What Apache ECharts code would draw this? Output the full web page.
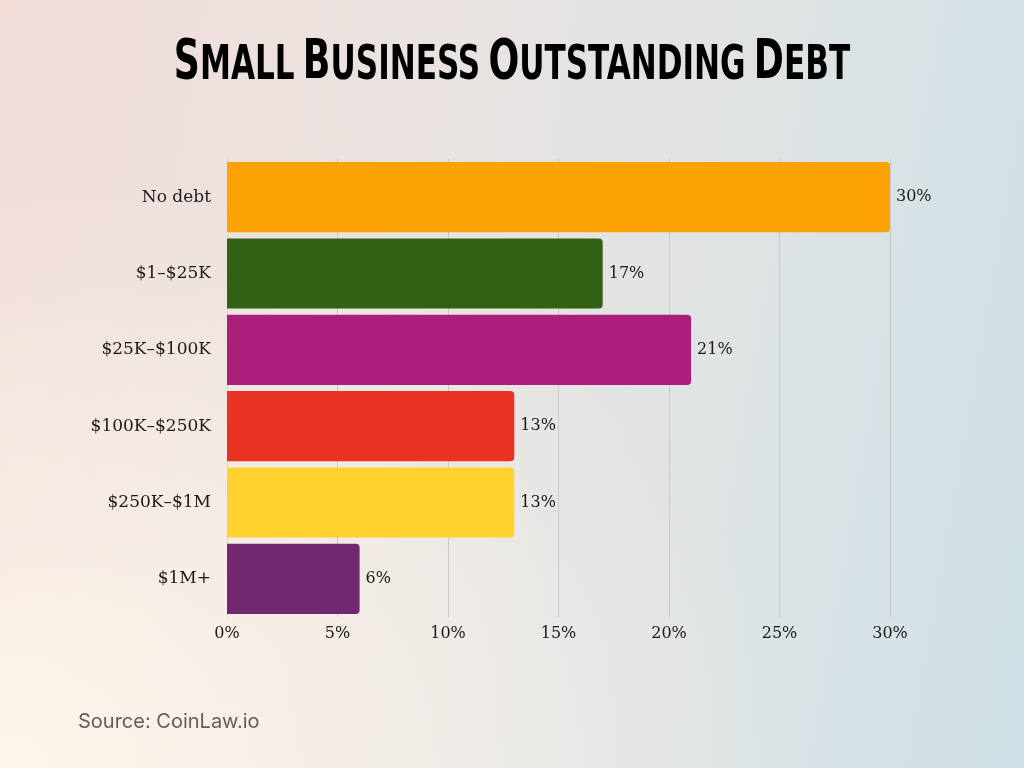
<!DOCTYPE html>
<html><head><meta charset="utf-8">
<script src="https://cdn.jsdelivr.net/npm/echarts@6/dist/echarts.min.js"></script>
<style>
html,body{margin:0;padding:0;width:1024px;height:768px;overflow:hidden;}
body{background:
 radial-gradient(ellipse at 0% 100%, rgba(253,246,236,1) 0%, rgba(253,246,236,0) 55%),
 linear-gradient(100deg, #f1dcd8 0%, #ebe3e0 35%, #e0e3e4 65%, #cfe1e7 100%);}
#c{width:1024px;height:768px;}
</style></head>
<body><div id="c"></div>
<script>
const categories = ["No debt", "$1–$25K", "$25K–$100K", "$100K–$250K", "$250K–$1M", "$1M+"];
const values = [30, 17, 21, 13, 13, 6];
const colors = ["#FBA304", "#336114", "#AA1F7A", "#E83323", "#FFD22F", "#722870"];
const ticks = [0, 5, 10, 15, 20, 25, 30];

const chart = echarts.init(document.getElementById('c'), null, {renderer: 'canvas'});
const serif = "'DejaVu Serif', 'Liberation Serif', serif";
const titleFont = "'DejaVu Sans Condensed', 'Liberation Sans Narrow', sans-serif";

function smallCaps(str) {
  return str.split(' ').map(w => '{b|' + w[0] + '}{s|' + w.slice(1).toUpperCase() + '}').join('{sp| }');
}

chart.setOption({
  backgroundColor: 'transparent',
  graphic: [{
    type: 'text', x: 512, y: 35, scaleX: 0.72,
    style: {
      x: 0, y: 0, align: 'center', verticalAlign: 'top',
      text: smallCaps('Small Business Outstanding Debt'),
      rich: {
        b: {fontFamily: titleFont, fontWeight: 'bold', fontSize: 56, fill: '#000', verticalAlign: 'bottom'},
        s: {fontFamily: titleFont, fontWeight: 'bold', fontSize: 48, fill: '#000', verticalAlign: 'bottom'},
        sp: {fontFamily: titleFont, fontSize: 40}
      }
    }
  }, {
    type: 'text', left: 78, top: 712,
    style: {text: 'Source: CoinLaw.io', fill: '#5f5f5f', font: "20px 'Inter', 'Noto Sans', sans-serif"}
  }],
  grid: {left: 227, right: 134, top: 159, bottom: 151, containLabel: false},
  xAxis: {
    type: 'value', min: 0, max: 30, interval: 5,
    axisLine: {show: false}, axisTick: {show: false},
    splitLine: {show: true, lineStyle: {color: '#c9c9c9', width: 1}},
    axisLabel: {formatter: v => v + '%', fontFamily: serif, fontSize: 16, color: '#1a1a1a', margin: 9}
  },
  yAxis: {
    type: 'category', data: categories, inverse: true,
    axisLine: {show: true, lineStyle: {color: '#d5d5d5'}}, axisTick: {show: false},
    axisLabel: {fontFamily: serif, fontSize: 17, color: '#1a1a1a', margin: 16}
  },
  series: [{
    type: 'bar',
    data: values.map((v, i) => ({value: v, itemStyle: {color: colors[i]}})),
    barCategoryGap: '8%',
    itemStyle: {borderRadius: [0, 4, 4, 0]},
    label: {show: true, position: 'right', formatter: p => p.value + '%', fontFamily: serif, fontSize: 16, color: '#1a1a1a', distance: 6}
  }]
});
</script></body></html>
